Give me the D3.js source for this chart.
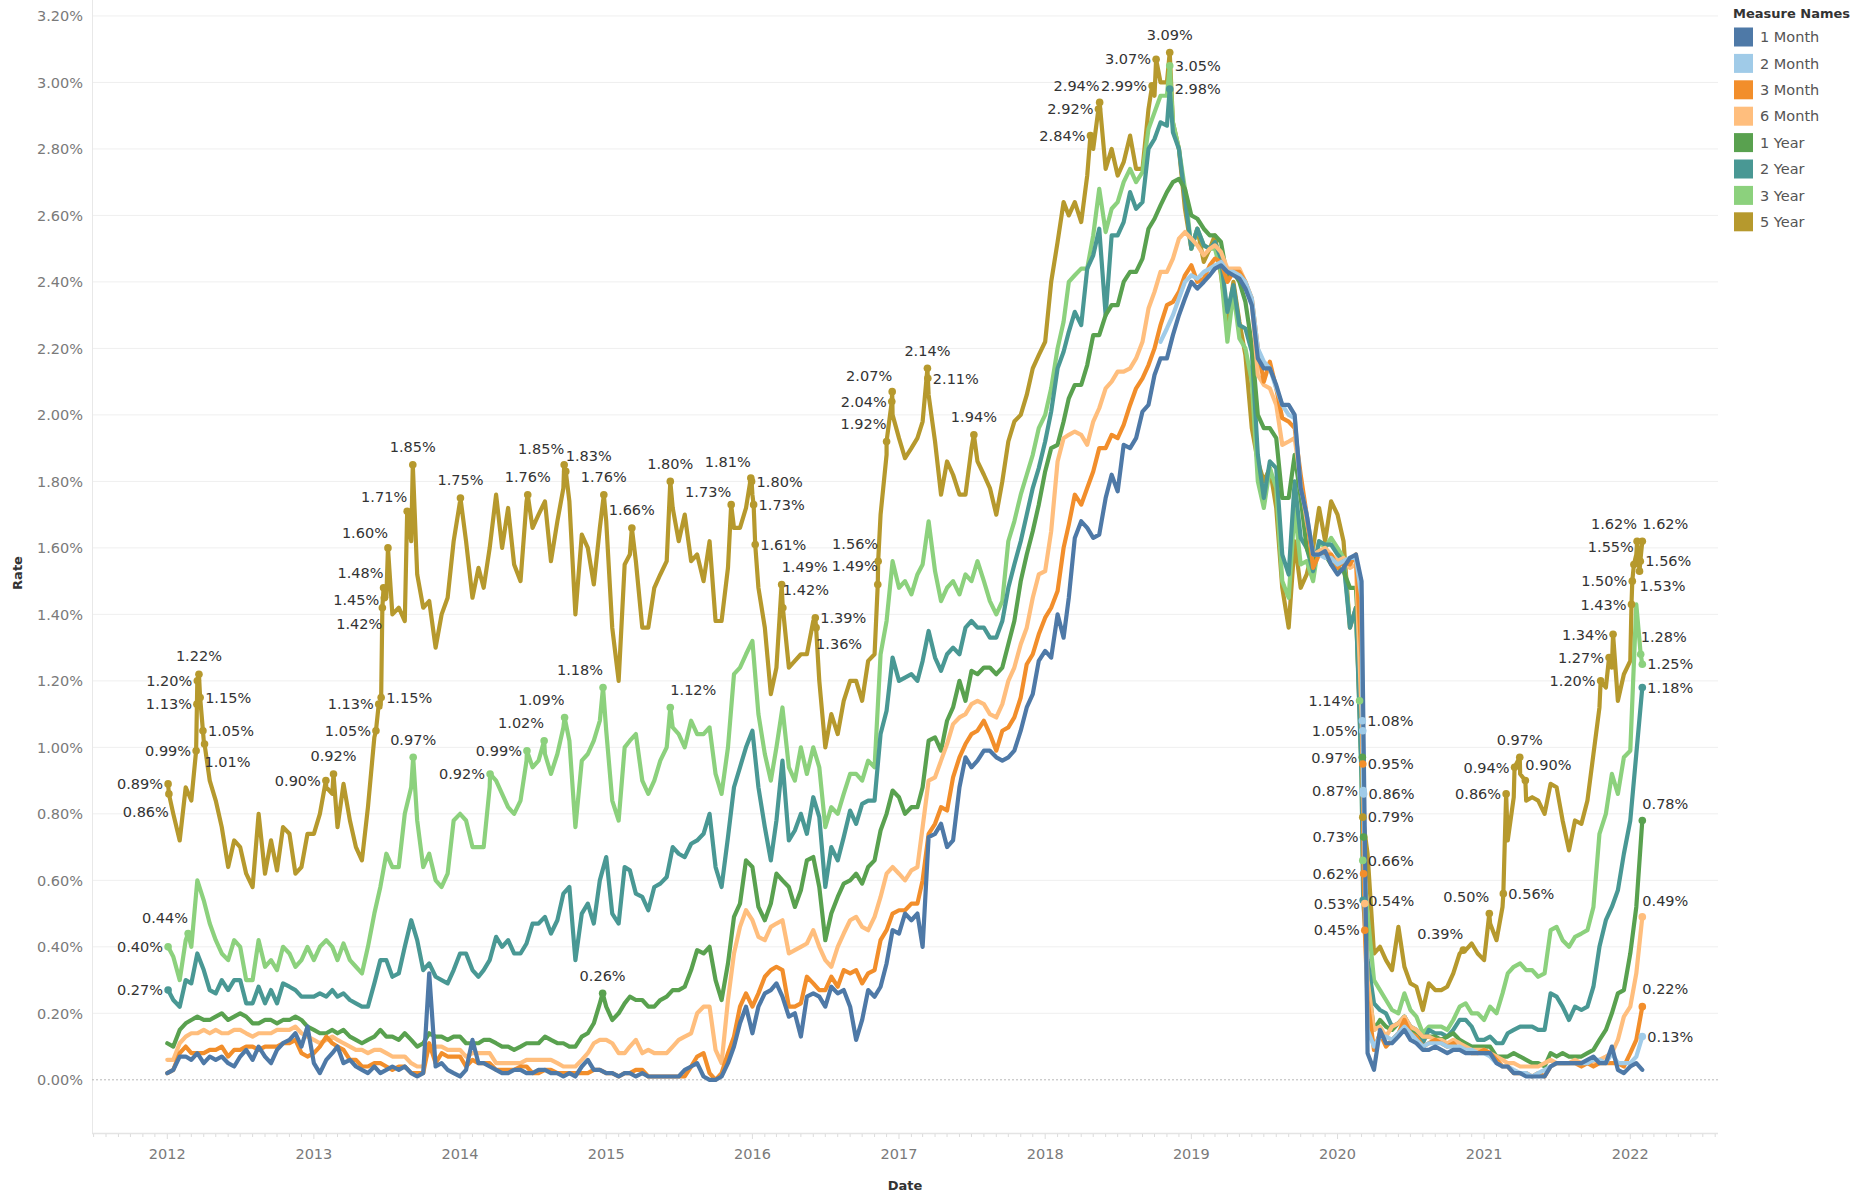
<!DOCTYPE html>
<html>
<head>
<meta charset="utf-8">
<script src="https://cdn.jsdelivr.net/npm/d3@7"></script>
<style>
  body { margin: 0; background: #fff; }
  svg { display: block; font-family: "DejaVu Sans", sans-serif; }
</style>
</head>
<body>
<svg id="chart" width="1871" height="1194"></svg>
<script>
// ---- data -------------------------------------------------------------
const seriesNames = ["1 Month", "2 Month", "3 Month", "6 Month", "1 Year", "2 Year", "3 Year", "5 Year"];
const seriesColors = ["#4e79a7", "#a0cbe8", "#f28e2b", "#ffbe7d", "#59a14f", "#499894", "#8cd17d", "#b6992d"];
const yTicks = [0, 0.2, 0.4, 0.6, 0.8, 1.0, 1.2, 1.4, 1.6, 1.8, 2.0, 2.2, 2.4, 2.6, 2.8, 3.0, 3.2];
const xTickYears = [2012, 2013, 2014, 2015, 2016, 2017, 2018, 2019, 2020, 2021, 2022];

// readings on the 1st and 16th of each month, Jan 2012 .. Jan 2022 (24 per year)
const rate1M = [
  0.02,0.03,0.07,0.07,0.06,0.08, 0.05,0.07,0.06,0.07,0.05,0.04, 0.07,0.09,0.06,0.10,0.07,0.05, 0.09,0.11,0.12,0.14,0.10,0.16,
  0.05,0.02,0.06,0.08,0.10,0.05, 0.06,0.04,0.03,0.02,0.04,0.02, 0.03,0.04,0.03,0.04,0.02,0.01, 0.02,0.32,0.04,0.05,0.03,0.02,
  0.01,0.03,0.12,0.05,0.05,0.04, 0.03,0.02,0.02,0.03,0.03,0.02, 0.02,0.03,0.03,0.02,0.02,0.01, 0.02,0.01,0.04,0.06,0.03,0.03,
  0.02,0.02,0.01,0.02,0.02,0.01, 0.02,0.01,0.01,0.01,0.01,0.01, 0.01,0.03,0.04,0.05,0.01,0.00, 0.00,0.01,0.05,0.10,0.17,0.22,
  0.14,0.22,0.26,0.27,0.29,0.25, 0.19,0.20,0.13,0.25,0.26,0.25, 0.22,0.28,0.26,0.27,0.22,0.12, 0.18,0.27,0.25,0.28,0.35,0.45,
  0.44,0.50,0.48,0.50,0.40,0.73, 0.74,0.77,0.70,0.72,0.88,0.97, 0.94,0.96,0.99,0.99,0.97,0.96, 0.97,0.99,1.05,1.12,1.16,1.26,
  1.29,1.27,1.40,1.33,1.45,1.63, 1.68,1.66,1.63,1.64,1.75,1.82, 1.77,1.91,1.90,1.93,2.01,2.03, 2.12,2.17,2.17,2.24,2.30,2.35,
  2.40,2.38,2.40,2.42,2.44,2.45, 2.43,2.42,2.41,2.38,2.33,2.17, 2.14,2.14,2.09,2.03,2.03,2.00, 1.78,1.70,1.58,1.58,1.59,1.55,
  1.52,1.54,1.57,1.58,1.50,0.08, 0.03,0.15,0.11,0.11,0.13,0.15, 0.12,0.11,0.09,0.09,0.10,0.09, 0.08,0.09,0.09,0.08,0.08,0.08,
  0.08,0.08,0.05,0.04,0.04,0.02, 0.02,0.01,0.01,0.01,0.01,0.04, 0.05,0.05,0.05,0.05,0.05,0.06, 0.07,0.05,0.05,0.10,0.03,0.02,
  0.04,0.05
];
// the 2-month bill starts on 16 Oct 2018
const rate2MStart = "2018-10-16";
const rate2M = [
  2.22,2.26,2.30,2.35,2.40,
  2.42,2.41,2.43,2.44,2.45,2.46, 2.43,2.43,2.42,2.40,2.35,2.20, 2.16,2.14,2.08,2.03,2.00,1.99, 1.78,1.70,1.58,1.58,1.57,1.57,
  1.55,1.56,1.57,1.57,1.45,0.15, 0.10,0.13,0.13,0.12,0.14,0.16, 0.14,0.12,0.10,0.11,0.11,0.11, 0.10,0.10,0.10,0.09,0.09,0.08,
  0.08,0.07,0.05,0.04,0.04,0.03, 0.02,0.02,0.01,0.02,0.03,0.04, 0.05,0.05,0.05,0.05,0.05,0.05, 0.06,0.06,0.05,0.08,0.05,0.05,
  0.05,0.07
];
const rate3M = [
  0.02,0.03,0.08,0.10,0.08,0.08, 0.08,0.09,0.09,0.10,0.07,0.09, 0.09,0.10,0.10,0.09,0.10,0.10, 0.10,0.11,0.11,0.12,0.08,0.07,
  0.08,0.10,0.13,0.11,0.10,0.09, 0.06,0.06,0.04,0.04,0.05,0.05, 0.04,0.03,0.04,0.04,0.02,0.02, 0.02,0.11,0.05,0.08,0.07,0.07,
  0.07,0.04,0.06,0.05,0.05,0.05, 0.03,0.03,0.03,0.03,0.04,0.04, 0.02,0.02,0.03,0.03,0.02,0.02, 0.02,0.02,0.02,0.02,0.03,0.03,
  0.02,0.02,0.01,0.02,0.02,0.03, 0.03,0.01,0.01,0.01,0.01,0.01, 0.01,0.01,0.04,0.07,0.08,0.02, 0.00,0.02,0.08,0.13,0.22,0.26,
  0.22,0.26,0.31,0.33,0.34,0.33, 0.22,0.22,0.23,0.31,0.29,0.27, 0.27,0.31,0.28,0.33,0.32,0.33, 0.29,0.32,0.33,0.42,0.45,0.50,
  0.51,0.51,0.53,0.53,0.60,0.74, 0.77,0.82,0.81,0.91,0.97,1.01, 1.04,1.05,1.08,1.04,0.99,1.05, 1.06,1.09,1.15,1.25,1.28,1.34,
  1.39,1.42,1.47,1.60,1.67,1.76, 1.73,1.78,1.83,1.90,1.90,1.94, 1.93,1.97,2.03,2.08,2.11,2.15, 2.20,2.27,2.33,2.34,2.37,2.42,
  2.45,2.40,2.41,2.45,2.47,2.46, 2.40,2.43,2.43,2.40,2.35,2.20, 2.10,2.16,2.08,1.99,1.98,1.96, 1.82,1.70,1.54,1.58,1.58,1.58,
  1.54,1.56,1.55,1.58,1.27,0.24, 0.09,0.14,0.10,0.12,0.14,0.18, 0.14,0.13,0.10,0.11,0.12,0.11, 0.10,0.11,0.09,0.09,0.08,0.08,
  0.09,0.08,0.06,0.04,0.04,0.02, 0.02,0.02,0.01,0.02,0.01,0.04, 0.05,0.05,0.05,0.05,0.04,0.05, 0.04,0.05,0.05,0.05,0.05,0.04,
  0.08,0.12
];
const rate6M = [
  0.06,0.06,0.11,0.13,0.14,0.14, 0.15,0.14,0.15,0.14,0.14,0.15, 0.15,0.14,0.13,0.14,0.14,0.14, 0.15,0.15,0.15,0.16,0.14,0.13,
  0.12,0.11,0.12,0.13,0.12,0.11, 0.10,0.09,0.09,0.08,0.09,0.09, 0.08,0.07,0.07,0.07,0.05,0.04, 0.04,0.10,0.10,0.10,0.09,0.09,
  0.09,0.07,0.08,0.08,0.08,0.08, 0.05,0.05,0.05,0.05,0.05,0.06, 0.06,0.06,0.06,0.06,0.05,0.04, 0.04,0.04,0.06,0.08,0.11,0.12,
  0.12,0.11,0.08,0.08,0.10,0.12, 0.08,0.09,0.08,0.08,0.08,0.10, 0.12,0.13,0.14,0.20,0.22,0.22, 0.09,0.05,0.24,0.38,0.46,0.51,
  0.48,0.43,0.42,0.46,0.47,0.48, 0.38,0.39,0.40,0.41,0.45,0.40, 0.36,0.34,0.40,0.44,0.48,0.49, 0.46,0.45,0.49,0.55,0.62,0.64,
  0.62,0.60,0.63,0.64,0.76,0.90, 0.91,0.96,1.01,1.07,1.09,1.10, 1.13,1.14,1.13,1.10,1.09,1.13, 1.20,1.24,1.31,1.36,1.45,1.52,
  1.53,1.65,1.86,1.93,1.94,1.95, 1.94,1.91,1.98,2.02,2.08,2.10, 2.13,2.13,2.14,2.17,2.22,2.32, 2.37,2.43,2.43,2.47,2.53,2.55,
  2.53,2.51,2.48,2.50,2.51,2.49, 2.44,2.44,2.44,2.40,2.34,2.12, 2.09,2.08,2.03,1.91,1.92,1.93, 1.80,1.68,1.58,1.59,1.60,1.58,
  1.56,1.57,1.54,1.55,1.10,0.30, 0.15,0.16,0.13,0.16,0.17,0.19, 0.16,0.15,0.13,0.13,0.12,0.12, 0.11,0.12,0.11,0.10,0.09,0.09,
  0.09,0.08,0.07,0.06,0.05,0.05, 0.04,0.04,0.04,0.04,0.05,0.06, 0.05,0.05,0.05,0.06,0.05,0.05, 0.05,0.06,0.07,0.08,0.12,0.19,
  0.22,0.32
];
const rate1Y = [
  0.11,0.10,0.15,0.17,0.18,0.19, 0.18,0.18,0.19,0.20,0.18,0.19, 0.20,0.19,0.17,0.17,0.18,0.18, 0.17,0.18,0.18,0.19,0.18,0.16,
  0.15,0.14,0.14,0.15,0.14,0.15, 0.13,0.12,0.11,0.12,0.13,0.15, 0.13,0.13,0.12,0.14,0.12,0.10, 0.11,0.14,0.13,0.13,0.12,0.13,
  0.13,0.11,0.11,0.11,0.12,0.12, 0.11,0.10,0.10,0.09,0.10,0.11, 0.11,0.11,0.13,0.12,0.11,0.11, 0.10,0.10,0.13,0.14,0.17,0.23,
  0.22,0.18,0.20,0.23,0.25,0.24, 0.24,0.22,0.22,0.24,0.25,0.27, 0.27,0.28,0.33,0.39,0.38,0.40, 0.30,0.24,0.35,0.49,0.53,0.66,
  0.64,0.52,0.48,0.53,0.62,0.60, 0.58,0.52,0.57,0.66,0.67,0.58, 0.42,0.50,0.55,0.59,0.60,0.62, 0.59,0.64,0.66,0.75,0.80,0.87,
  0.85,0.80,0.82,0.82,0.88,1.02, 1.03,0.99,1.08,1.12,1.20,1.14, 1.23,1.22,1.24,1.24,1.22,1.24, 1.31,1.38,1.50,1.58,1.65,1.73,
  1.83,1.90,1.91,1.98,2.05,2.09, 2.09,2.15,2.24,2.24,2.30,2.33, 2.33,2.40,2.43,2.43,2.47,2.56, 2.59,2.63,2.67,2.70,2.71,2.68,
  2.60,2.59,2.56,2.54,2.54,2.52, 2.41,2.43,2.40,2.34,2.21,2.00, 1.96,1.96,1.93,1.75,1.75,1.88, 1.75,1.60,1.55,1.59,1.58,1.55,
  1.54,1.53,1.48,1.48,1.17,0.30, 0.15,0.18,0.16,0.15,0.17,0.19, 0.15,0.14,0.13,0.13,0.13,0.12, 0.13,0.14,0.12,0.11,0.10,0.10,
  0.10,0.10,0.07,0.07,0.07,0.08, 0.07,0.06,0.05,0.05,0.04,0.08, 0.07,0.08,0.07,0.07,0.07,0.08, 0.09,0.12,0.15,0.20,0.26,0.27,
  0.38,0.52
];
const rate2Y = [
  0.27,0.24,0.22,0.30,0.29,0.38, 0.33,0.27,0.26,0.30,0.27,0.30, 0.30,0.23,0.23,0.28,0.23,0.27, 0.23,0.29,0.28,0.27,0.25,0.25,
  0.25,0.26,0.25,0.27,0.25,0.26, 0.24,0.23,0.22,0.22,0.29,0.36, 0.36,0.31,0.32,0.40,0.48,0.42, 0.33,0.35,0.31,0.30,0.29,0.33,
  0.38,0.38,0.33,0.31,0.33,0.36, 0.43,0.40,0.42,0.38,0.38,0.41, 0.47,0.47,0.49,0.44,0.48,0.56, 0.58,0.36,0.50,0.53,0.47,0.60,
  0.67,0.50,0.47,0.64,0.63,0.56, 0.55,0.51,0.58,0.59,0.61,0.70, 0.68,0.67,0.71,0.72,0.74,0.80, 0.64,0.58,0.73,0.88,0.94,1.00,
  1.05,0.88,0.76,0.66,0.78,0.96, 0.72,0.75,0.80,0.74,0.85,0.79, 0.58,0.70,0.66,0.73,0.81,0.77, 0.83,0.84,0.84,1.04,1.11,1.27,
  1.20,1.21,1.22,1.20,1.26,1.35, 1.27,1.23,1.28,1.30,1.28,1.36, 1.38,1.36,1.36,1.33,1.33,1.38, 1.48,1.55,1.62,1.70,1.78,1.84,
  1.92,2.01,2.14,2.19,2.25,2.31, 2.27,2.44,2.48,2.56,2.30,2.54, 2.54,2.58,2.67,2.62,2.64,2.80, 2.83,2.88,2.87,2.85,2.80,2.65,
  2.50,2.56,2.51,2.50,2.52,2.47, 2.31,2.39,2.27,2.26,2.19,1.88, 1.75,1.86,1.84,1.58,1.52,1.80, 1.63,1.60,1.53,1.62,1.61,1.61,
  1.58,1.56,1.36,1.42,0.91,0.36, 0.23,0.21,0.20,0.16,0.17,0.19, 0.16,0.15,0.11,0.15,0.14,0.14, 0.13,0.15,0.18,0.18,0.16,0.12,
  0.12,0.13,0.11,0.11,0.14,0.15, 0.16,0.16,0.16,0.15,0.15,0.26, 0.25,0.22,0.18,0.22,0.21,0.22, 0.28,0.40,0.48,0.52,0.57,0.68,
  0.78,0.98
];
const rate3Y = [
  0.40,0.37,0.30,0.42,0.40,0.60, 0.54,0.47,0.42,0.38,0.36,0.42, 0.40,0.30,0.30,0.42,0.34,0.36, 0.33,0.40,0.38,0.34,0.36,0.40,
  0.36,0.40,0.42,0.40,0.36,0.41, 0.36,0.34,0.32,0.40,0.50,0.58, 0.68,0.64,0.64,0.80,0.88,0.78, 0.64,0.68,0.60,0.58,0.62,0.78,
  0.80,0.78,0.70,0.70,0.70,0.88, 0.90,0.86,0.82,0.80,0.84,0.96, 0.94,0.96,0.98,0.92,0.98,1.06, 1.02,0.76,0.96,0.98,1.02,1.08,
  1.05,0.84,0.78,1.00,1.02,1.04, 0.90,0.86,0.90,0.96,1.00,1.06, 1.04,1.00,1.08,1.04,1.04,1.06, 0.92,0.86,1.00,1.22,1.24,1.28,
  1.32,1.10,0.98,0.90,1.00,1.12, 0.94,0.90,1.00,0.92,1.00,0.94, 0.76,0.82,0.80,0.86,0.92,0.92, 0.90,0.96,0.94,1.28,1.38,1.56,
  1.48,1.50,1.46,1.52,1.55,1.68, 1.53,1.44,1.48,1.50,1.46,1.52, 1.50,1.56,1.50,1.44,1.40,1.44, 1.62,1.68,1.76,1.82,1.88,1.96,
  2.00,2.08,2.20,2.28,2.40,2.42, 2.44,2.44,2.54,2.68,2.55,2.62, 2.64,2.70,2.74,2.70,2.73,2.86, 2.91,2.96,2.96,2.88,2.80,2.68,
  2.50,2.56,2.51,2.50,2.50,2.43, 2.22,2.37,2.23,2.20,2.10,1.80, 1.72,1.84,1.78,1.50,1.45,1.72, 1.55,1.56,1.50,1.62,1.60,1.63,
  1.60,1.57,1.37,1.40,0.90,0.50, 0.30,0.27,0.24,0.21,0.20,0.26, 0.21,0.19,0.14,0.16,0.16,0.16, 0.15,0.18,0.22,0.23,0.20,0.20,
  0.18,0.22,0.20,0.26,0.32,0.34, 0.35,0.33,0.33,0.31,0.32,0.45, 0.46,0.42,0.40,0.43,0.44,0.45, 0.52,0.74,0.80,0.92,0.86,0.97,
  0.99,1.43
];
const rate5Y = [
  0.89,0.80,0.72,0.88,0.84,1.20, 1.02,0.90,0.84,0.76,0.64,0.72, 0.70,0.62,0.58,0.80,0.62,0.72, 0.63,0.76,0.74,0.62,0.64,0.74,
  0.74,0.80,0.88,0.86,0.76,0.89, 0.78,0.70,0.66,0.82,1.03,1.12, 1.45,1.40,1.42,1.38,1.62,1.52, 1.42,1.44,1.30,1.40,1.45,1.62,
  1.74,1.62,1.45,1.54,1.48,1.60, 1.76,1.60,1.72,1.55,1.50,1.74, 1.66,1.70,1.74,1.56,1.68,1.78, 1.74,1.40,1.64,1.60,1.49,1.66,
  1.68,1.36,1.20,1.55,1.58,1.56, 1.36,1.36,1.48,1.52,1.56,1.72, 1.62,1.70,1.56,1.58,1.50,1.62, 1.38,1.38,1.54,1.66,1.66,1.72,
  1.76,1.48,1.36,1.16,1.24,1.44, 1.24,1.26,1.28,1.28,1.38,1.20, 1.00,1.10,1.04,1.14,1.20,1.20, 1.14,1.26,1.28,1.70,1.88,2.00,
  1.93,1.87,1.90,1.93,1.98,2.06, 1.92,1.76,1.86,1.82,1.76,1.76, 1.90,1.86,1.82,1.78,1.70,1.80, 1.92,1.98,2.00,2.06,2.14,2.18,
  2.22,2.40,2.52,2.64,2.60,2.64, 2.58,2.72,2.80,2.90,2.74,2.80, 2.72,2.76,2.84,2.74,2.74,2.92, 2.96,3.00,3.00,2.88,2.80,2.62,
  2.50,2.56,2.46,2.50,2.54,2.42, 2.28,2.40,2.28,2.18,1.96,1.86, 1.80,1.84,1.72,1.48,1.36,1.62, 1.48,1.52,1.60,1.72,1.62,1.74,
  1.70,1.62,1.36,1.42,0.94,0.68, 0.38,0.40,0.36,0.33,0.46,0.34, 0.29,0.28,0.21,0.29,0.27,0.27, 0.28,0.32,0.38,0.39,0.41,0.38,
  0.36,0.47,0.42,0.52,0.72,0.85, 0.92,0.84,0.85,0.84,0.80,0.89, 0.88,0.78,0.69,0.78,0.77,0.84, 0.98,1.12,1.18,1.24,1.14,1.22,
  1.26,1.58
];
const seriesValues = [rate1M, rate2M, rate3M, rate6M, rate1Y, rate2Y, rate3Y, rate5Y];

// last trading day shown
const endDate = "2022-01-31";
const endValues = [0.03, 0.13, 0.22, 0.49, 0.78, 1.18, 1.25, 1.62];

// labelled marks: series, date, value, side, vertical nudge (px)
const pointLabels = [
  ["5 Year","2012-01-03",0.89,"l",0], ["5 Year","2012-01-05",0.86,"l",18],
  ["5 Year","2012-03-13",0.99,"l",0], ["5 Year","2012-03-15",1.13,"l",0],
  ["5 Year","2012-03-16",1.20,"l",0], ["5 Year","2012-03-20",1.22,"t",0],
  ["5 Year","2012-03-23",1.15,"r",0], ["5 Year","2012-03-30",1.05,"r",0],
  ["5 Year","2012-04-03",1.01,"r",18],
  ["5 Year","2013-01-31",0.90,"l",0], ["5 Year","2013-02-19",0.92,"t",0],
  ["5 Year","2013-06-05",1.05,"l",0], ["5 Year","2013-06-12",1.13,"l",0],
  ["5 Year","2013-06-18",1.15,"r",0], ["5 Year","2013-06-21",1.42,"l",16],
  ["5 Year","2013-06-24",1.48,"l",-15], ["5 Year","2013-06-26",1.45,"l",2],
  ["5 Year","2013-07-05",1.60,"l",-15], ["5 Year","2013-08-22",1.71,"l",-15],
  ["5 Year","2013-09-05",1.85,"t",0],
  ["5 Year","2014-01-02",1.75,"t",0], ["5 Year","2014-06-19",1.76,"t",0],
  ["5 Year","2014-09-18",1.85,"l",-16], ["5 Year","2014-09-22",1.83,"r",-16],
  ["5 Year","2014-12-26",1.76,"t",0],
  ["5 Year","2015-03-06",1.66,"t",0], ["5 Year","2015-06-10",1.80,"t",0],
  ["5 Year","2015-11-09",1.73,"l",-13], ["5 Year","2015-12-28",1.81,"l",-16],
  ["5 Year","2015-12-30",1.80,"r",0],
  ["5 Year","2016-01-04",1.73,"r",0], ["5 Year","2016-01-08",1.61,"r",0],
  ["5 Year","2016-03-14",1.49,"r",-18], ["5 Year","2016-03-17",1.42,"r",-18],
  ["5 Year","2016-06-06",1.39,"r",0], ["5 Year","2016-06-08",1.36,"r",16],
  ["5 Year","2016-11-09",1.49,"l",-19], ["5 Year","2016-11-10",1.56,"l",-17],
  ["5 Year","2016-12-01",1.92,"l",-18], ["5 Year","2016-12-14",2.04,"l",0],
  ["5 Year","2016-12-15",2.07,"l",-16],
  ["5 Year","2017-03-13",2.14,"t",0], ["5 Year","2017-03-14",2.11,"r",0],
  ["5 Year","2017-07-07",1.94,"t",0],
  ["5 Year","2018-04-24",2.84,"l",0], ["5 Year","2018-05-14",2.92,"l",0],
  ["5 Year","2018-05-17",2.94,"l",-17], ["5 Year","2018-09-25",2.99,"l",0],
  ["5 Year","2018-10-05",3.07,"l",0], ["5 Year","2018-11-08",3.09,"t",0],
  ["5 Year","2020-03-04",0.79,"r",0], ["5 Year","2020-11-10",0.39,"l",-16],
  ["5 Year","2021-01-14",0.50,"l",-17], ["5 Year","2021-02-18",0.56,"r",0],
  ["5 Year","2021-02-25",0.86,"l",0], ["5 Year","2021-03-18",0.94,"l",0],
  ["5 Year","2021-03-31",0.97,"t",0], ["5 Year","2021-04-14",0.90,"r",-16],
  ["5 Year","2021-10-19",1.20,"l",0], ["5 Year","2021-11-09",1.27,"l",0],
  ["5 Year","2021-11-19",1.34,"l",0],
  ["5 Year","2022-01-04",1.43,"l",0], ["5 Year","2022-01-06",1.50,"l",0],
  ["5 Year","2022-01-10",1.55,"l",-18], ["5 Year","2022-01-18",1.62,"l",-17],
  ["5 Year","2022-01-24",1.53,"r",15], ["5 Year","2022-01-26",1.56,"r",0],
  ["5 Year","2022-01-31",1.62,"r",-17],
  ["3 Year","2012-01-03",0.40,"l",0], ["3 Year","2012-02-22",0.44,"l",-16],
  ["3 Year","2013-09-06",0.97,"t",0], ["3 Year","2014-03-17",0.92,"l",0],
  ["3 Year","2014-06-17",0.99,"l",0], ["3 Year","2014-07-30",1.02,"l",-18],
  ["3 Year","2014-09-19",1.09,"l",-18], ["3 Year","2014-12-24",1.18,"l",-18],
  ["3 Year","2015-06-10",1.12,"r",-18], ["3 Year","2018-11-08",3.05,"r",0],
  ["3 Year","2020-02-25",1.14,"l",0], ["3 Year","2020-03-04",0.66,"r",0],
  ["3 Year","2022-01-27",1.28,"r",-17], ["3 Year","2022-01-31",1.25,"r",0],
  ["2 Year","2012-01-03",0.27,"l",0], ["2 Year","2018-11-08",2.98,"r",0],
  ["2 Year","2020-03-05",0.54,"r",0], ["2 Year","2022-01-31",1.18,"r",0],
  ["1 Year","2014-12-23",0.26,"t",0], ["1 Year","2020-03-03",0.97,"l",0],
  ["1 Year","2020-03-06",0.73,"l",0], ["1 Year","2022-01-31",0.78,"r",-17],
  ["6 Month","2020-03-09",0.53,"l",0], ["6 Month","2022-01-31",0.49,"r",-16],
  ["3 Month","2020-03-04",0.95,"r",0], ["3 Month","2020-03-06",0.62,"l",0],
  ["3 Month","2020-03-09",0.45,"l",0], ["3 Month","2022-01-31",0.22,"r",-18],
  ["2 Month","2020-03-03",1.08,"r",0], ["2 Month","2020-03-04",1.05,"l",0],
  ["2 Month","2020-03-05",0.87,"l",0], ["2 Month","2020-03-06",0.86,"r",0],
  ["2 Month","2022-01-31",0.13,"r",0]
];

// ---- layout -----------------------------------------------------------
const parse = d3.utcParse("%Y-%m-%d");
const svg = d3.select("#chart");
const plotLeft = 92, plotRight = 1718, plotTop = 0, plotBottom = 1133;

const x = d3.scaleUtc()
  .domain([parse("2011-06-27"), parse("2022-08-08")])
  .range([plotLeft, plotRight]);
const y = d3.scaleLinear().domain([-0.16, 3.248]).range([plotBottom, plotTop]);
const color = d3.scaleOrdinal(seriesNames, seriesColors);
const fmt = v => d3.format(".2f")(v) + "%";

// semi-monthly grid: 1st and 16th of each month from Jan 2012
const gridDates = d3.range(242).map(i =>
  new Date(Date.UTC(2012 + Math.floor(i / 24), Math.floor((i % 24) / 2), i % 2 ? 16 : 1)));
const start2M = gridDates.findIndex(d => +d === +parse(rate2MStart));
const offsets = seriesNames.map(n => n === "2 Month" ? start2M : 0);

const bad = seriesValues.map((v, i) => [seriesNames[i], v.length, 242 - offsets[i]])
  .filter(d => d[1] !== d[2]);
if (bad.length) throw new Error("length mismatch " + JSON.stringify(bad));

const labels = pointLabels.map(([s, d, v, pos, dy]) => ({ s, date: parse(d), value: v, pos, dy }));

const series = seriesNames.map((name, i) => {
  const pts = seriesValues[i].map((v, j) => ({ date: gridDates[offsets[i] + j], value: v }));
  labels.filter(l => l.s === name).forEach(l => pts.push({ date: l.date, value: l.value }));
  pts.push({ date: parse(endDate), value: endValues[i] });
  pts.sort((a, b) => a.date - b.date);
  return { name, pts };
});

// gridlines
svg.append("g").selectAll("line").data(yTicks.filter(t => t > 0)).join("line")
  .attr("x1", plotLeft).attr("x2", plotRight)
  .attr("y1", d => y(d)).attr("y2", d => y(d))
  .attr("stroke", "#efefef").attr("stroke-width", 1);

// plot frame (left edge + axis line)
svg.append("line").attr("x1", plotLeft + 0.5).attr("x2", plotLeft + 0.5)
  .attr("y1", plotTop).attr("y2", plotBottom)
  .attr("stroke", "#e8e8e8");
svg.append("line").attr("x1", plotLeft).attr("x2", plotRight)
  .attr("y1", plotBottom + 0.5).attr("y2", plotBottom + 0.5)
  .attr("stroke", "#e4e4e4").attr("stroke-width", 1.5);

// zero line
svg.append("line").attr("x1", plotLeft).attr("x2", plotRight).attr("y1", y(0)).attr("y2", y(0))
  .attr("stroke", "#b8b8b8").attr("stroke-dasharray", "2,2");

// y axis labels
svg.append("g").selectAll("text").data(yTicks).join("text")
  .attr("x", 83).attr("y", d => y(d)).attr("dy", "0.36em")
  .attr("text-anchor", "end").attr("font-size", 14.5).attr("fill", "#7a7a7a")
  .text(d => fmt(d));

// x axis: monthly minor ticks, yearly labels
const months = d3.utcMonth.range(parse("2011-07-01"), parse("2022-08-02"));
svg.append("g").selectAll("line").data(months).join("line")
  .attr("x1", d => x(d)).attr("x2", d => x(d))
  .attr("y1", plotBottom + 1).attr("y2", d => d.getUTCMonth() === 0 ? plotBottom + 6 : plotBottom + 4)
  .attr("stroke", "#dcdcdc");
svg.append("g").selectAll("text").data(xTickYears).join("text")
  .attr("x", d => x(new Date(Date.UTC(d, 0, 1)))).attr("y", 1154).attr("dy", "0.36em")
  .attr("text-anchor", "middle").attr("font-size", 14.5).attr("fill", "#7a7a7a")
  .text(d => d);

// axis titles
svg.append("text").attr("transform", "translate(17,573) rotate(-90)")
  .attr("text-anchor", "middle").attr("dy", "0.36em")
  .attr("font-size", 13).attr("font-weight", "bold").attr("fill", "#333").text("Rate");
svg.append("text").attr("x", 905).attr("y", 1185).attr("dy", "0.36em")
  .attr("text-anchor", "middle").attr("font-size", 13).attr("font-weight", "bold")
  .attr("fill", "#333").text("Date");

// lines (5 Year at the bottom, 1 Month on top)
const line = d3.line().x(d => x(d.date)).y(d => y(d.value));
svg.append("g").selectAll("path").data(series.slice().reverse()).join("path")
  .attr("d", d => line(d.pts))
  .attr("fill", "none")
  .attr("stroke", d => color(d.name))
  .attr("stroke-width", 4.2)
  .attr("stroke-linejoin", "round")
  .attr("stroke-linecap", "round");

// labelled marks
svg.append("g").selectAll("circle").data(labels).join("circle")
  .attr("cx", d => x(d.date)).attr("cy", d => y(d.value)).attr("r", 3.8)
  .attr("fill", d => color(d.s));

// labels pushed up/down sit tight against their mark
const gap = d => Math.abs(d.dy) > 10 ? 0 : 5;
svg.append("g").selectAll("text").data(labels).join("text")
  .attr("x", d => d.pos === "t" ? x(d.date) : d.pos === "l" ? x(d.date) - gap(d) : x(d.date) + gap(d))
  .attr("y", d => d.pos === "t" ? y(d.value) - 18 + d.dy : y(d.value) + d.dy)
  .attr("dy", "0.36em")
  .attr("text-anchor", d => d.pos === "t" ? "middle" : d.pos === "l" ? "end" : "start")
  .attr("font-size", 14.5).attr("fill", "#333")
  .text(d => fmt(d.value));

// legend
const legend = svg.append("g").attr("transform", "translate(1733,0)");
legend.append("text").attr("x", 0).attr("y", 13).attr("dy", "0.36em")
  .attr("font-size", 13).attr("font-weight", "bold").attr("fill", "#333")
  .text("Measure Names");
const rows = legend.selectAll("g.row").data(seriesNames).join("g")
  .attr("class", "row")
  .attr("transform", (d, i) => `translate(0,${37 + i * 26.4})`);
rows.append("rect").attr("x", 1).attr("y", -9.5).attr("width", 19).attr("height", 19)
  .attr("fill", d => color(d));
rows.append("text").attr("x", 27).attr("y", 0).attr("dy", "0.36em")
  .attr("font-size", 14.5).attr("fill", "#555").text(d => d);
</script>
</body>
</html>
